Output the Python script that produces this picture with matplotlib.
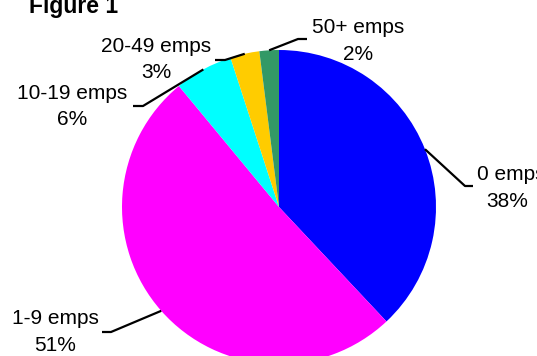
import numpy as np
import matplotlib.pyplot as plt

plt.rcParams['font.family'] = ['Liberation Sans', 'DejaVu Sans']

# Share of businesses by employee size band
categories = ["0 emps", "1-9 emps", "10-19 emps", "20-49 emps", "50+ emps"]
shares = [38, 51, 6, 3, 2]
pct_labels = ["38%", "51%", "6%", "3%", "2%"]
colors = ["#0000FF", "#FF00FF", "#00FFFF", "#FFCC00", "#339966"]

W, H = 537, 356
fig = plt.figure(figsize=(W / 100, H / 100), dpi=100)
ax = fig.add_axes([0, 0, 1, 1])

cx, cy, r = 279, H - 207, 157
wedges, _ = ax.pie(shares, colors=colors, startangle=90, counterclock=False,
                   center=(cx, cy), radius=r, frame=True,
                   wedgeprops=dict(linewidth=0))
ax.set_xlim(0, W)
ax.set_ylim(0, H)
ax.set_aspect('equal')
ax.axis('off')

# Label placement (pixel coords from top-left): text centre x for each line,
# baselines, leader-line elbow and end points
label_layout = [
    dict(x1=511, x2=507, b1=180, b2=207, elbow=(465, 186), end=(473, 186)),
    dict(x1=55, x2=55, b1=324, b2=351, elbow=(111, 332), end=(102, 332)),
    dict(x1=72, x2=72, b1=99, b2=125, elbow=(143, 106), end=(133, 106)),
    dict(x1=156, x2=156, b1=52, b2=78, elbow=(225, 60), end=(215, 60)),
    dict(x1=358, x2=358, b1=33, b2=60, elbow=(298, 39), end=(307, 39)),
]

fs = 15
for w, name, pct, lay in zip(wedges, categories, pct_labels, label_layout):
    mid = np.deg2rad((w.theta1 + w.theta2) / 2)
    ax_x = cx + r * np.cos(mid)
    ax_y = cy + r * np.sin(mid)
    ex, ey = lay['elbow']
    nx, ny = lay['end']
    ax.plot([ax_x, ex, nx], [ax_y, H - ey, H - ny], color='black', lw=1.6,
            solid_capstyle='butt', clip_on=False)
    ax.text(lay['x1'], H - lay['b1'], name, ha='center', va='baseline',
            fontsize=fs, color='black')
    ax.text(lay['x2'], H - lay['b2'], pct, ha='center', va='baseline',
            fontsize=fs, color='black')

ax.text(73.5, H - 13, "Figure 1", ha='center', va='baseline',
        fontsize=16.5, fontweight='bold', color='black')

fig.savefig("out.png", dpi=100)
